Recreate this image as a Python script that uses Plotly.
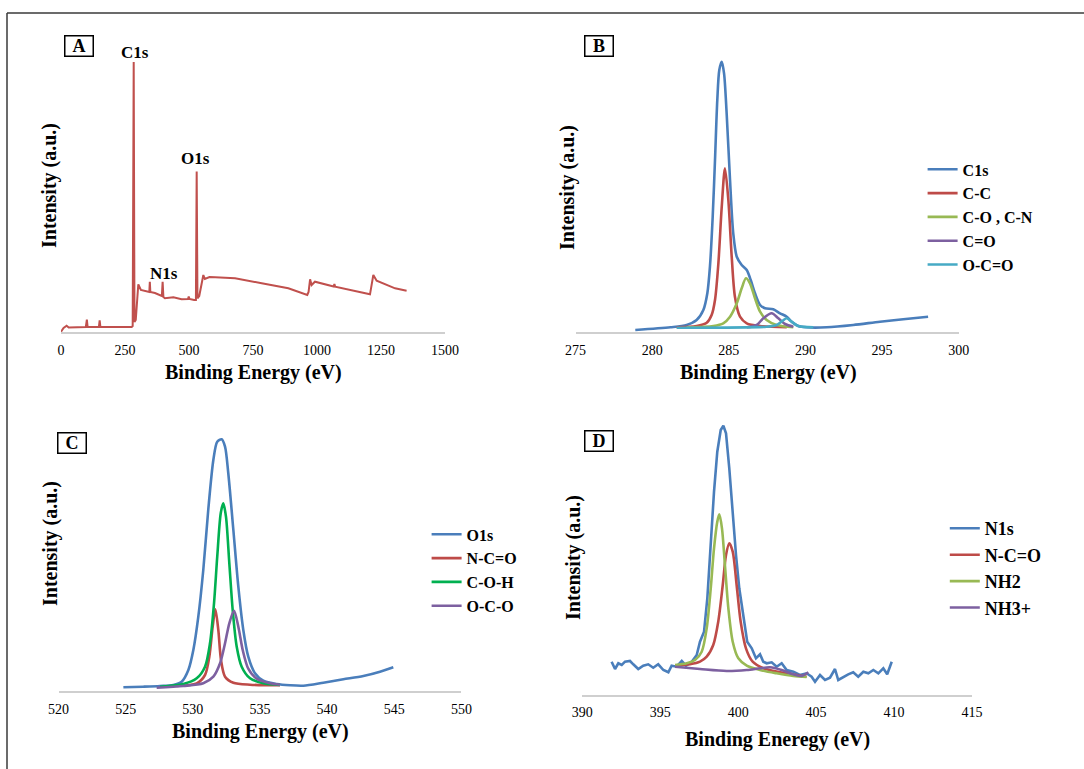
import plotly.graph_objects as go

W, H = 1084, 769
SERIF = "Liberation Serif, Times New Roman, serif"

# ---------------- Panel A: survey spectrum ----------------
a_energy = [0, 10, 22, 30, 97, 101, 104, 148, 151, 154, 276, 280, 284, 287, 292, 302, 312,
            342, 345, 347, 349, 367, 394, 397, 400, 406, 439, 471, 496, 499, 502, 520,
            527, 530, 533, 540, 556, 562, 580, 602, 680, 784, 888, 962, 967, 973, 979,
            992, 1065, 1068, 1071, 1207, 1213, 1220, 1233, 1266, 1305, 1350]
a_chitosan = [0.3, 4, 6.3, 4.5, 5, 12.3, 5, 5, 11.7, 5, 5, 6, 270, 10, 12, 47.7, 42,
              40, 40, 50.3, 40, 39, 36, 50.3, 35, 33.7, 34.7, 32.7, 33, 35.5, 33, 32,
              32, 160.5, 33.7, 36, 57, 53, 55, 54.7, 53.7, 48.7, 43.7, 37, 40, 52.7, 47,
              50.3, 45.5, 48, 45.3, 37.7, 45, 57, 51.3, 48, 43.7, 41.3]
a_ticks = [0, 250, 500, 750, 1000, 1250, 1500]

# ---------------- Panel B: C1s ----------------
b_c1s_e = [278.9, 281.2, 282.25, 282.9, 283.34, 283.6, 283.77, 283.95, 284.1, 284.25, 284.38,
           284.54, 284.69, 284.86, 285.08, 285.29, 285.52, 285.84, 286.17, 286.43, 286.71,
           287.04, 287.36, 287.9, 288.34, 288.78, 289.1, 289.53, 290.08, 291.38, 293.12,
           294.86, 296.38, 298.0]
b_c1s = [2, 4.7, 7, 12, 22, 38.7, 65.3, 115.3, 172, 232, 262, 270.3, 258.7, 218.7, 152, 98.7,
         75.3, 67, 62, 52, 38.7, 27, 23.7, 22.7, 18.7, 15.3, 10.3, 6, 4.7, 4.7, 7, 10.3, 12.7, 15.3]
b_cc_e = [281.6, 282.9, 283.56, 283.88, 284.1, 284.32, 284.54, 284.75, 284.97, 285.19, 285.4,
          285.73, 286.17, 287.04, 288.78]
b_cc = [4.7, 6, 9.3, 17, 32, 68.7, 125.3, 163.7, 132, 75.3, 35.3, 15.3, 8.7, 6, 4.7]
b_co_e = [282.25, 283.99, 284.64, 285.08, 285.52, 285.84, 286.12, 286.38, 286.71, 287.04,
          287.47, 288.12, 289.21]
b_co = [4.7, 6, 8.7, 15.3, 28.7, 43.7, 53.7, 48.7, 33.7, 20.3, 12, 7, 4.7]
b_cdo_e = [286.17, 286.82, 287.25, 287.8, 288.23, 288.67, 289.21]
b_cdo = [4.7, 7, 13.7, 18.7, 13.7, 8, 5.3]
b_ocdo_e = [281.6, 287.47, 288.12, 288.51, 288.78, 289.1, 289.53, 290.51]
b_ocdo = [4.3, 5.3, 7, 11.3, 13.7, 10.3, 6, 4.7]
b_ticks = [275, 280, 285, 290, 295, 300]

# ---------------- Panel C: O1s ----------------
c_o1s_e = [524.83, 526.31, 527.56, 528.55, 529.17, 529.67, 530.04, 530.41, 530.78, 531.15,
           531.53, 531.82, 532.15, 532.4, 532.64, 533.02, 533.39, 533.76, 534.13, 534.63,
           535.25, 536.25, 537.24, 538.23, 539.72, 541.21, 542.7, 543.94, 544.93]
c_o1s = [3.7, 4.3, 5, 6, 9.3, 21, 41, 74.3, 121, 181, 231, 249.3, 251.7, 244.3, 218, 161,
         104.3, 61, 34.3, 17.7, 10.3, 7, 5.7, 5.3, 8.3, 11.7, 15, 19.3, 23.7]
c_nco_e = [528.8, 530.29, 530.91, 531.23, 531.48, 531.68, 531.9, 532.1, 532.4, 533.02, 534.26, 536.49]
c_nco = [5, 7.7, 16, 34.3, 64.3, 81.7, 61, 31, 14.3, 8.3, 6.3, 5.7]
c_coh_e = [527.56, 529.29, 530.29, 530.91, 531.28, 531.58, 531.82, 532.08, 532.27, 532.47,
           532.72, 532.97, 533.27, 533.64, 534.26, 535.25, 536.49]
c_coh = [4.3, 7, 12.7, 24.3, 47.7, 87.7, 134.3, 177.7, 187.7, 174.3, 127.7, 81, 44.3, 24.3,
         12.7, 7.7, 6]
c_oco_e = [527.31, 529.29, 530.78, 531.53, 532.03, 532.4, 532.72, 533.07, 533.39, 533.72,
           534.13, 534.76, 535.75, 536.49]
c_oco = [3.3, 5, 7.7, 14.3, 27.7, 47.7, 67.7, 80.3, 64.3, 40.7, 22.3, 12.3, 7.7, 6.3]
c_ticks = [520, 525, 530, 535, 540, 545, 550]

# ---------------- Panel D: N1s ----------------
d_n1s_e = [391.88, 392.1, 392.31, 392.53, 392.74, 393.06, 393.27, 393.59, 393.91, 394.23,
           394.55, 394.87, 395.2, 395.52, 395.73, 396.05, 396.38, 396.65, 397.02, 397.34,
           397.55, 397.81, 398.02, 398.24, 398.45, 398.66, 398.88, 399.05, 399.22, 399.43,
           399.65, 399.86, 400.07, 400.33, 400.58, 400.87, 401.14, 401.4, 401.61, 401.83,
           402.15, 402.47, 402.79, 403.11, 403.54, 403.96, 404.39, 404.71, 404.93, 405.25,
           405.57, 405.89, 406.21, 406.42, 406.75, 407.06, 407.38, 407.7, 408.03, 408.35,
           408.67, 408.99, 409.31, 409.56, 409.85]
d_n1s = [32.8, 25.5, 31.2, 29.5, 32.8, 33.5, 30.2, 25.5, 28.8, 30.2, 26.8, 30.2, 24.5, 22.2,
         28.8, 27.8, 33.5, 28.8, 32.8, 39.5, 52.8, 62.8, 96.2, 152.8, 202.8, 242.8, 264.5,
         268.8, 261.2, 226.2, 179.5, 139.5, 106.2, 76.2, 52.8, 46.2, 36.2, 40.2, 32.8, 31.2,
         32.2, 27.8, 31.2, 24.5, 22.8, 19.5, 21.2, 17.8, 12.8, 19.5, 14.5, 16.8, 25.5, 14.5,
         17.8, 20.2, 22.2, 17.8, 22.8, 21.2, 24.5, 21.2, 26.2, 20.2, 32.8]
d_nco_e = [395.95, 396.91, 397.55, 397.98, 398.4, 398.72, 399.01, 399.22, 399.43, 399.65,
           399.9, 400.16, 400.5, 400.93, 401.61, 402.68, 403.75, 404.39]
d_nco = [28.8, 30.2, 32.8, 37.8, 49.5, 72.8, 109.5, 139.5, 151.2, 142.8, 109.5, 72.8, 46.2,
         32.8, 26.2, 22.2, 19.5, 17.8]
d_nh2_e = [395.95, 396.7, 397.23, 397.66, 397.98, 398.24, 398.45, 398.66, 398.79, 398.96,
           399.15, 399.37, 399.65, 400.01, 400.55, 401.4, 402.47, 403.54, 404.39]
d_nh2 = [29.5, 31.2, 34.5, 42.8, 66.2, 106.2, 146.2, 172.8, 180.2, 166.2, 129.5, 86.2, 52.8,
         36.2, 28.8, 24.5, 21.2, 18.5, 17.5]
d_nh3_e = [395.95, 397.55, 399.26, 400.55, 401.4, 402.04, 402.79, 403.54, 404.07, 404.5]
d_nh3 = [27.8, 25.5, 23.5, 24.5, 26.2, 27.2, 24.5, 20.2, 18.5, 22.2]
d_ticks = [390, 395, 400, 405, 410, 415]

BLUE, RED, GREEN, PURPLE, CYAN, BGREEN = "#4A7EBB", "#BE4B48", "#98B954", "#7D60A0", "#46AAC5", "#00B050"


def px_x(p):
    return p / W


def px_y(p):
    return 1 - p / H


fig = go.Figure()


def add(x, y, name, color, xa, ya, legend, width=2.6, smooth=True):
    fig.add_trace(go.Scatter(
        x=x, y=y, name=name, mode="lines", xaxis=xa, yaxis=ya, legend=legend,
        line=dict(color=color, width=width, shape="spline" if smooth else "linear",
                  smoothing=0.8 if smooth else None),
    ))


add(a_energy, a_chitosan, "Chitosan", "#C0504D", "x", "y", "legend", width=2, smooth=False)

add(b_c1s_e, b_c1s, "C1s", BLUE, "x2", "y2", "legend2")
add(b_cc_e, b_cc, "C-C", RED, "x2", "y2", "legend2")
add(b_co_e, b_co, "C-O , C-N", GREEN, "x2", "y2", "legend2")
add(b_cdo_e, b_cdo, "C=O", PURPLE, "x2", "y2", "legend2")
add(b_ocdo_e, b_ocdo, "O-C=O", CYAN, "x2", "y2", "legend2")

add(c_o1s_e, c_o1s, "O1s", BLUE, "x3", "y3", "legend3")
add(c_nco_e, c_nco, "N-C=O", RED, "x3", "y3", "legend3")
add(c_coh_e, c_coh, "C-O-H", BGREEN, "x3", "y3", "legend3")
add(c_oco_e, c_oco, "O-C-O", PURPLE, "x3", "y3", "legend3")

add(d_n1s_e, d_n1s, "N1s", BLUE, "x4", "y4", "legend4", smooth=False)
add(d_nco_e, d_nco, "N-C=O", RED, "x4", "y4", "legend4")
add(d_nh2_e, d_nh2, "NH2", GREEN, "x4", "y4", "legend4")
add(d_nh3_e, d_nh3, "NH3+", PURPLE, "x4", "y4", "legend4")


def xaxis_cfg(x0, x1, rng, ticks, anchor):
    return dict(domain=[px_x(x0), px_x(x1)], range=rng, tickvals=ticks, anchor=anchor,
                showgrid=False, zeroline=False, showline=True, linecolor="#CFCFCF", linewidth=1.5,
                ticks="outside", ticklen=4, tickcolor="rgba(0,0,0,0)", automargin=False,
                tickfont=dict(family=SERIF, size=14, color="black"), fixedrange=True)


def yaxis_cfg(bottom, top, anchor):
    return dict(domain=[px_y(bottom), px_y(top)], range=[0, 300], anchor=anchor, visible=False,
                showgrid=False, zeroline=False, fixedrange=True, automargin=False)


layout = dict(
    width=W, height=H, autosize=False,
    margin=dict(l=0, r=0, t=0, b=0, pad=0, autoexpand=False),
    paper_bgcolor="white", plot_bgcolor="rgba(0,0,0,0)",
    xaxis=xaxis_cfg(61, 445, [0, 1500], a_ticks, "y"),
    yaxis=yaxis_cfg(332, 32, "x"),
    xaxis2=xaxis_cfg(575.5, 958.75, [275, 300], b_ticks, "y2"),
    yaxis2=yaxis_cfg(332, 32, "x2"),
    xaxis3=xaxis_cfg(58.5, 461.4, [520, 550], c_ticks, "y3"),
    yaxis3=yaxis_cfg(691, 391, "x3"),
    xaxis4=xaxis_cfg(582.3, 972, [390, 415], d_ticks, "y4"),
    yaxis4=yaxis_cfg(694.5, 394.5, "x4"),
)


def legend_cfg(text_x, first_center_y, size):
    h = size * 1.3 + 3
    top = first_center_y - 5 - h / 2
    return dict(x=px_x(text_x - 40), y=px_y(top), xanchor="left", yanchor="top",
                bgcolor="rgba(0,0,0,0)", borderwidth=0,
                font=dict(family=SERIF, size=size, color="black", weight="bold"))


layout["legend"] = legend_cfg(441, 186, 19)
layout["legend2"] = legend_cfg(962.6, 169.3, 16)
layout["legend3"] = legend_cfg(466.6, 534.3, 16)
layout["legend4"] = legend_cfg(984.8, 528.3, 18)
fig.update_layout(**layout)

annotations = []


def text_at(xp, yp, txt, size, angle=0, bold=True):
    annotations.append(dict(
        x=px_x(xp), y=px_y(yp), xref="paper", yref="paper", showarrow=False,
        text=f"<b>{txt}</b>" if bold else txt, textangle=angle,
        xanchor="center", yanchor="middle",
        font=dict(family=SERIF, size=size, color="black")))


def box_label(xp, yp, txt):
    annotations.append(dict(
        x=px_x(xp), y=px_y(yp), xref="paper", yref="paper", showarrow=False,
        text=f"<b>{txt}</b>", xanchor="center", yanchor="middle",
        width=25, height=17, borderpad=1, bordercolor="black", borderwidth=1.5,
        bgcolor="white", font=dict(family=SERIF, size=18, color="black")))


# peak labels on survey (data coordinates)
for lbl, ex, iy in [("C1s", 289, 279), ("O1s", 527, 173), ("N1s", 402, 58)]:
    annotations.append(dict(x=ex, y=iy, xref="x", yref="y", showarrow=False,
                            text=f"<b>{lbl}</b>", xanchor="center", yanchor="middle",
                            font=dict(family=SERIF, size=17, color="black")))

box_label(79, 46, "A")
box_label(598.5, 46, "B")
box_label(71.8, 442.5, "C")
box_label(598.5, 441.4, "D")

text_at(253, 372, "Binding Energy (eV)", 20)
text_at(768.5, 372.7, "Binding Energy (eV)", 20)
text_at(260, 731, "Binding Energy (eV)", 20)
text_at(777.3, 739.3, "Binding Eneregy (eV)", 20)
text_at(49, 186, "Intensity (a.u.)", 20, angle=-90)
text_at(567, 188, "Intensity (a.u.)", 20, angle=-90)
text_at(50, 544, "Intensity (a.u.)", 20, angle=-90)
text_at(573, 558, "Intensity (a.u.)", 20, angle=-90)

fig.update_layout(annotations=annotations)

# outer frame (top and left edges visible in the reference)
fig.add_shape(type="line", xref="paper", yref="paper", x0=px_x(7), x1=1, y0=px_y(13), y1=px_y(13),
              line=dict(color="#3A3A3A", width=1.5))
fig.add_shape(type="line", xref="paper", yref="paper", x0=px_x(7), x1=px_x(7), y0=px_y(13), y1=0,
              line=dict(color="#3A3A3A", width=1.5))

fig.write_html("out.html")
